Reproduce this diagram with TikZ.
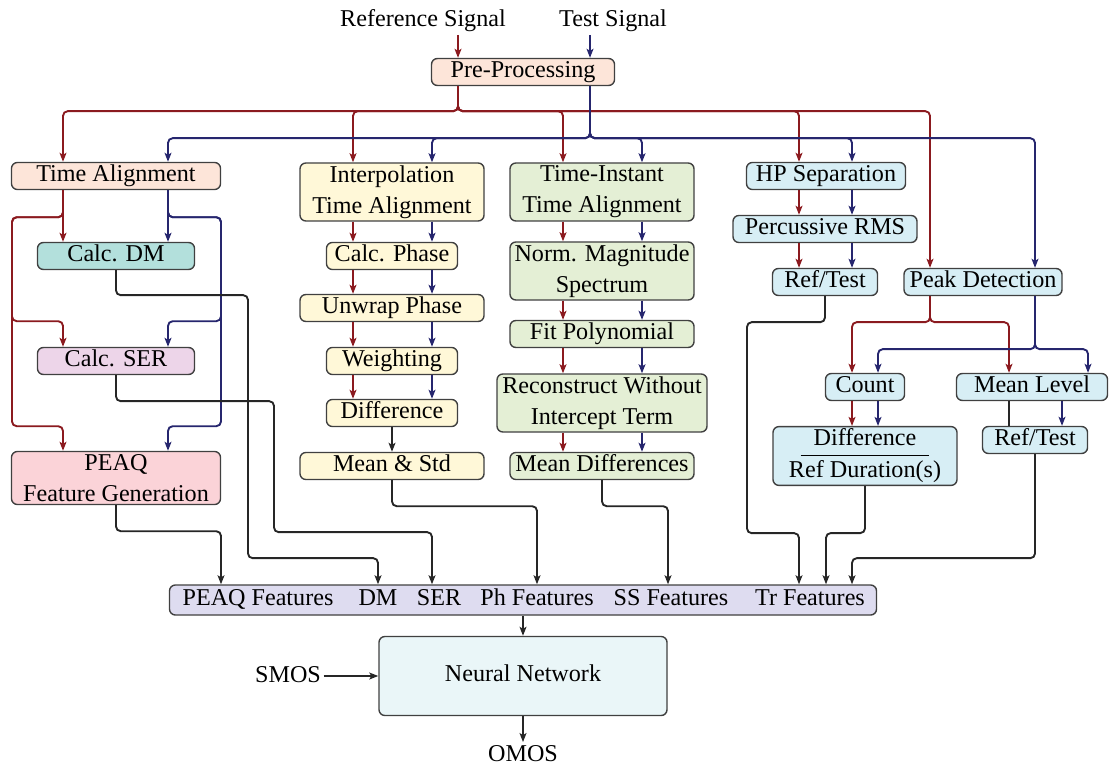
\documentclass[tikz,border=0pt]{standalone}
\usepackage{fontspec}
\setmainfont{Liberation Serif}
\usetikzlibrary{arrows.meta}

\definecolor{cPeach}{HTML}{FDE5D9}
\definecolor{cTeal}{HTML}{B3E0DC}
\definecolor{cMauve}{HTML}{EDD5E9}
\definecolor{cPink}{HTML}{FBD3D8}
\definecolor{cYellow}{HTML}{FFF8D8}
\definecolor{cGreen}{HTML}{E4EFD5}
\definecolor{cBlue}{HTML}{D7EEF5}
\definecolor{cLav}{HTML}{DEDCF0}
\definecolor{cIce}{HTML}{EAF6F8}
\definecolor{refred}{HTML}{8B1A1F}
\definecolor{tstblue}{HTML}{26266E}

\begin{document}
\begin{tikzpicture}[
    x=0.015cm, y=-0.015cm,
    boxbase/.style = {rectangle, draw=black!75, line width=0.6pt, rounded corners=2.5pt, align=center, inner sep=1pt, font=\fontsize{10.3}{13.2}\selectfont},
    box/.style = {boxbase, text height=7.2pt, text depth=2.3pt},
    box2/.style = {boxbase},
    sz/.style 2 args = {minimum width=#1*0.015cm, minimum height=#2*0.015cm},
    lbl/.style = {inner sep=1pt, text height=7.2pt, text depth=2.3pt, font=\fontsize{10.3}{13.2}\selectfont},
    arrowtip/.style = {-{Stealth[length=3.8pt, width=2.9pt, inset=0.8pt]}},
    refl/.style = {draw=refred, line width=0.8pt, rounded corners=2pt, arrowtip},
    tstl/.style = {draw=tstblue, line width=0.8pt, rounded corners=2pt, arrowtip},
    featl/.style = {draw=black!85, line width=0.8pt, rounded corners=2pt, arrowtip},
    bare/.style = {draw=black!85, line width=0.8pt}
]
    \useasboundingbox (0,0) rectangle (1109,765);

    % Lanes (x positions of the red / blue / black lines)
    \coordinate (rPre) at (458,0);  \coordinate (bPre) at (590,0);
    \coordinate (rTA) at (63,0);    \coordinate (bTA) at (168,0);
    \coordinate (rIP) at (353,0);   \coordinate (bIP) at (432,0);
    \coordinate (rTI) at (563,0);   \coordinate (bTI) at (642,0);
    \coordinate (rHP) at (799,0);   \coordinate (bHP) at (852,0);
    \coordinate (rPD) at (930,0);   \coordinate (bPD) at (1035,0);
    \coordinate (rCnt) at (852,0);  \coordinate (bCnt) at (878,0);
    \coordinate (rML) at (1009,0);  \coordinate (bML) at (1088,0);
    \coordinate (bRT) at (1062,0);
    \coordinate (kPEAQ) at (221,0); \coordinate (kDM) at (378,0);
    \coordinate (kSER) at (432,0);  \coordinate (kPh) at (537,0);
    \coordinate (kSS) at (668,0);   \coordinate (kTr1) at (799,0);
    \coordinate (kTr2) at (826,0);  \coordinate (kTr3) at (852,0);

    % Nodes - Inputs
    \node (refsig) [lbl] at (423,21) {Reference Signal};
    \node (testsig) [lbl] at (613,21) {Test Signal};
    \node (pre) [box, fill=cPeach, sz={183}{26}] at (523,72) {Pre-Processing};

    % Nodes - PEAQ / DM / SER column
    \node (ta) [box, fill=cPeach, sz={209}{27}] at (116,176) {Time Alignment};
    \node (dm) [box, fill=cTeal, sz={157}{26}] at (116,256) {Calc. DM};
    \node (ser) [box, fill=cMauve, sz={157}{26}] at (116,361) {Calc. SER};
    \node (peaq) [box2, fill=cPink, sz={209}{53}] at (116,478) {PEAQ\\Feature Generation};

    % Nodes - Phase column
    \node (interp) [box2, fill=cYellow, sz={184}{58}] at (392,192) {Interpolation\\Time Alignment};
    \node (phase) [box, fill=cYellow, sz={131}{27}] at (392,256) {Calc. Phase};
    \node (unwrap) [box, fill=cYellow, sz={184}{26}] at (392,308) {Unwrap Phase};
    \node (weight) [box, fill=cYellow, sz={131}{27}] at (392,361) {Weighting};
    \node (diff) [box, fill=cYellow, sz={131}{27}] at (392,413) {Difference};
    \node (mstd) [box, fill=cYellow, sz={184}{27}] at (392,466) {Mean \& Std};

    % Nodes - Spectral column
    \node (tinst) [box2, fill=cGreen, sz={184}{58}] at (602,192) {Time-Instant\\Time Alignment};
    \node (norm) [box2, fill=cGreen, sz={184}{58}] at (602,271) {Norm. Magnitude\\Spectrum};
    \node (fitp) [box, fill=cGreen, sz={184}{26}] at (602,334) {Fit Polynomial};
    \node (recon) [box2, fill=cGreen, sz={210}{58}] at (602,403) {Reconstruct Without\\Intercept Term};
    \node (mdiff) [box, fill=cGreen, sz={184}{27}] at (602,466) {Mean Differences};

    % Nodes - Transient column
    \node (hps) [box, fill=cBlue, sz={159}{27}] at (826,176) {HP Separation};
    \node (prms) [box, fill=cBlue, sz={184}{27}] at (825,229) {Percussive RMS};
    \node (rt1) [box, fill=cBlue, sz={105}{26}] at (825,282) {Ref/Test};
    \node (pd) [box, fill=cBlue, sz={158}{26}] at (983,282) {Peak Detection};
    \node (count) [box, fill=cBlue, sz={79}{26}] at (865,387) {Count};
    \node (ml) [box, fill=cBlue, sz={151}{26}] at (1032,387) {Mean Level};
    \node (dfrac) [box2, fill=cBlue, sz={184}{58}] at (865,456) {$\displaystyle\frac{\mbox{Difference}}{\hspace{-5pt}\mbox{Ref Duration(s)}\hspace{-5pt}}$};
    \node (rt2) [box, fill=cBlue, sz={105}{26}] at (1035,440) {Ref/Test};

    % Nodes - Features and network
    \node (bar) [boxbase, fill=cLav, sz={707}{30}] at (523,600) {};
    \node (lPEAQ) [lbl] at (258,600) {PEAQ Features};
    \node (lDM) [lbl] at (378,600) {DM};
    \node (lSER) [lbl] at (439,600) {SER};
    \node (lPh) [lbl] at (537,600) {Ph Features};
    \node (lSS) [lbl] at (671,600) {SS Features};
    \node (lTr) [lbl] at (810,600) {Tr Features};
    \node (nn) [box, fill=cIce, sz={288}{79}] at (523,676) {Neural Network};
    \node (smos) [lbl] at (288,677) {SMOS};
    \node (omos) [lbl] at (523,756) {OMOS};

    % Edges - Inputs
    \path [refl] (refsig.south -| rPre) -- (pre.north -| rPre);
    \path [tstl] (testsig.south -| bPre) -- (pre.north -| bPre);

    % Edges - Reference bus
    \path [refl] (pre.south -| rPre) -- ++(0,25) -| (ta.north -| rTA);
    \path [refl] (pre.south -| rPre) -- ++(0,25) -| (interp.north -| rIP);
    \path [refl] (pre.south -| rPre) -- ++(0,25) -| (tinst.north -| rTI);
    \path [refl] (pre.south -| rPre) -- ++(0,25) -| (hps.north -| rHP);
    \path [refl] (pre.south -| rPre) -- ++(0,25) -| (pd.north -| rPD);

    % Edges - Test bus
    \path [tstl] (pre.south -| bPre) -- ++(0,52) -| (ta.north -| bTA);
    \path [tstl] (pre.south -| bPre) -- ++(0,52) -| (interp.north -| bIP);
    \path [tstl] (pre.south -| bPre) -- ++(0,52) -| (tinst.north -| bTI);
    \path [tstl] (pre.south -| bPre) -- ++(0,52) -| (hps.north -| bHP);
    \path [tstl] (pre.south -| bPre) -- ++(0,52) -| (pd.north -| bPD);

    % Edges - PEAQ / DM / SER
    \path [refl] (ta.south -| rTA) -- (dm.north -| rTA);
    \path [tstl] (ta.south -| bTA) -- (dm.north -| bTA);
    \path [refl] (ta.south -| rTA) -- ++(0,27) -| ++(-51,104) -| (ser.north -| rTA);
    \path [refl] (ta.south -| rTA) -- ++(0,27) -| ++(-51,209) -| (peaq.north -| rTA);
    \path [tstl] (ta.south -| bTA) -- ++(0,27) -| ++(53,104) -| (ser.north -| bTA);
    \path [tstl] (ta.south -| bTA) -- ++(0,27) -| ++(53,209) -| (peaq.north -| bTA);

    % Edges - Phase
    \path [refl] (interp.south -| rIP) -- (phase.north -| rIP);
    \path [tstl] (interp.south -| bIP) -- (phase.north -| bIP);
    \path [refl] (phase.south -| rIP) -- (unwrap.north -| rIP);
    \path [tstl] (phase.south -| bIP) -- (unwrap.north -| bIP);
    \path [refl] (unwrap.south -| rIP) -- (weight.north -| rIP);
    \path [tstl] (unwrap.south -| bIP) -- (weight.north -| bIP);
    \path [refl] (weight.south -| rIP) -- (diff.north -| rIP);
    \path [tstl] (weight.south -| bIP) -- (diff.north -| bIP);
    \path [featl] (diff) -- (mstd);

    % Edges - Spectral
    \path [refl] (tinst.south -| rTI) -- (norm.north -| rTI);
    \path [tstl] (tinst.south -| bTI) -- (norm.north -| bTI);
    \path [refl] (norm.south -| rTI) -- (fitp.north -| rTI);
    \path [tstl] (norm.south -| bTI) -- (fitp.north -| bTI);
    \path [refl] (fitp.south -| rTI) -- (recon.north -| rTI);
    \path [tstl] (fitp.south -| bTI) -- (recon.north -| bTI);
    \path [refl] (recon.south -| rTI) -- (mdiff.north -| rTI);
    \path [tstl] (recon.south -| bTI) -- (mdiff.north -| bTI);

    % Edges - Transient
    \path [refl] (hps.south -| rHP) -- (prms.north -| rHP);
    \path [tstl] (hps.south -| bHP) -- (prms.north -| bHP);
    \path [refl] (prms.south -| rHP) -- (rt1.north -| rHP);
    \path [tstl] (prms.south -| bHP) -- (rt1.north -| bHP);
    \path [refl] (pd.south -| rPD) -- ++(0,26) -| (count.north -| rCnt);
    \path [refl] (pd.south -| rPD) -- ++(0,26) -| (ml.north -| rML);
    \path [tstl] (pd.south -| bPD) -- ++(0,53) -| (count.north -| bCnt);
    \path [tstl] (pd.south -| bPD) -- ++(0,53) -| (ml.north -| bML);
    \path [refl] (count.south -| rCnt) -- (dfrac.north -| rCnt);
    \path [tstl] (count.south -| bCnt) -- (dfrac.north -| bCnt);
    \path [bare] (ml.south -| rML) -- (rt2.north -| rML);
    \path [tstl] (ml.south -| bRT) -- (rt2.north -| bRT);

    % Edges - Features
    \path [featl] (peaq.south) -- ++(0,26) -| (bar.north -| kPEAQ);
    \path [featl] (dm.south) -- ++(0,25) -| ++(132,263) -| (bar.north -| kDM);
    \path [featl] (ser.south) -- ++(0,26) -| ++(158,131) -| (bar.north -| kSER);
    \path [featl] (mstd.south) -- ++(0,26) -| (bar.north -| kPh);
    \path [featl] (mdiff.south) -- ++(0,26) -| (bar.north -| kSS);
    \path [featl] (rt1.south) -- ++(0,26) -| ++(-78,211) -| (bar.north -| kTr1);
    \path [featl] (dfrac.south) -- ++(0,47) -| (bar.north -| kTr2);
    \path [featl] (rt2.south) -- ++(0,104) -| (bar.north -| kTr3);

    % Edges - Network
    \path [featl] (bar) -- (nn);
    \path [featl] (smos.east |- nn) -- (nn.west);
    \path [featl] (nn) -- (omos);

\end{tikzpicture}
\end{document}
